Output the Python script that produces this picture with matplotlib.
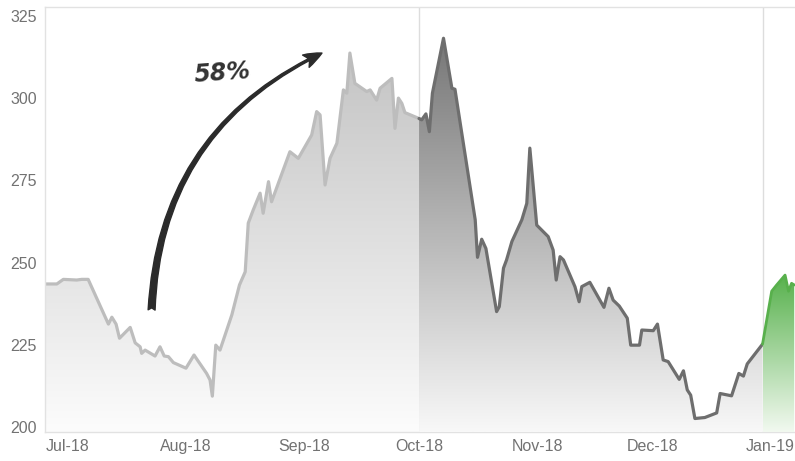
import numpy as np
import matplotlib
matplotlib.use("Agg")
import matplotlib.pyplot as plt
from matplotlib.colors import LinearSegmentedColormap
from matplotlib.patches import FancyArrowPatch

# ---- data: days since 2018-07-01, price ----
days_a = [-5.9, -2.8, -1.1, 2.4, 3.7, 5.4, 10.7, 11.6, 12.7, 13.6, 16.4, 17.7, 19.0, 19.4,
          20.3, 22.9, 24.2, 25.3, 26.4, 27.7, 31.0, 33.1, 36.4, 37.3, 37.9, 38.8, 39.9,
          40.8, 43.0, 45.0, 46.5, 47.3, 48.6, 50.4, 51.2, 52.6, 53.4, 58.2, 60.4, 63.9,
          65.2, 66.1, 67.4, 68.7, 70.5, 72.2, 73.1, 73.9, 75.2, 78.3, 79.2, 80.9, 81.8,
          84.9, 85.7, 86.6, 87.5, 88.3, 92.0]
vals_a = [243.5, 243.5, 244.9, 244.7, 244.9, 244.9, 231.3, 233.4, 231.3, 227.0, 230.3, 225.6,
          224.4, 222.4, 223.4, 221.6, 224.4, 221.6, 221.4, 219.6, 217.9, 221.9, 216.3, 214.3,
          209.4, 224.9, 223.4, 226.5, 234.1, 243.2, 247.2, 262.0, 266.0, 271.1, 265.0, 274.6,
          268.5, 283.7, 281.7, 288.8, 295.9, 294.9, 273.6, 281.7, 286.3, 302.5, 301.5, 313.7,
          304.5, 302.0, 302.5, 299.4, 303.0, 306.0, 290.8, 300.0, 298.4, 295.6, 293.8]

days_b = [92.0, 92.7, 93.8, 94.7, 95.5, 98.4, 100.6, 101.4, 106.7, 107.3, 108.4, 109.5,
          112.3, 113.0, 114.1, 114.9, 116.3, 118.9, 120.2, 121.0, 122.8, 125.8, 127.1,
          127.9, 128.9, 129.8, 132.8, 133.9, 134.6, 136.7, 140.4, 141.7, 142.8, 144.4,
          146.5, 147.4, 149.7, 150.3, 153.3, 154.4, 155.9, 157.2, 160.1, 161.2, 162.2,
          163.1, 164.2, 166.8, 169.9, 170.8, 173.8, 175.7, 176.9, 177.9, 181.9]
vals_b = [293.8, 293.4, 295.2, 289.8, 301.5, 318.2, 303.0, 302.7, 263.0, 251.6, 257.1, 254.3,
          235.1, 236.6, 248.3, 250.8, 256.4, 263.0, 268.0, 284.8, 261.4, 257.9, 253.8,
          244.7, 251.8, 250.8, 242.7, 238.1, 242.7, 244.0, 236.4, 242.2, 238.6, 236.8,
          233.1, 224.9, 224.9, 229.5, 229.3, 231.3, 220.4, 219.9, 214.5, 217.1, 211.3,
          209.7, 202.6, 202.9, 204.3, 210.2, 209.5, 216.3, 215.5, 219.2, 225.2]

days_c = [181.9, 184.3, 185.6, 187.8, 188.7, 189.5, 190.2]
vals_c = [225.2, 241.3, 243.2, 246.2, 241.3, 243.7, 243.2]

tick_days = [0, 31, 62, 92, 123, 153, 184]
tick_labels = ["Jul-18", "Aug-18", "Sep-18", "Oct-18", "Nov-18", "Dec-18", "Jan-19"]
y_ticks = [200, 225, 250, 275, 300, 325]
divider_days = [92.0, 181.9]

XMIN, XMAX = -5.9, 190.4
YMIN, YMAX = 198.5, 327.7

plt.rcParams['font.family'] = ['Liberation Sans', 'DejaVu Sans']

fig = plt.figure(figsize=(7.95, 4.61), dpi=100)
ax = fig.add_axes([45 / 795, (461 - 432) / 461, 750 / 795, 425 / 461])
ax.set_xlim(XMIN, XMAX)
ax.set_ylim(YMIN, YMAX)


def gradient_fill(x, y, c_bottom, c_top, v_bottom, v_top, line_color, lw, z):
    poly = ax.fill_between(x, y, YMIN, facecolor='none', edgecolor='none')
    cmap = LinearSegmentedColormap.from_list('g', [c_bottom, c_top])
    grad = np.linspace(0, 1, 256).reshape(-1, 1)
    im = ax.imshow(grad, cmap=cmap, aspect='auto', origin='lower',
                   extent=[min(x), max(x), v_bottom, v_top], zorder=z,
                   interpolation='bilinear')
    im.set_clip_path(poly.get_paths()[0], transform=ax.transData)
    ax.plot(x, y, color=line_color, lw=lw, zorder=z + 0.5,
            solid_joinstyle='round', solid_capstyle='round')


gradient_fill(days_a, vals_a, '#fcfcfc', '#c2c2c2', 198.5, 318, '#bdbdbd', 2.3, 2)
gradient_fill(days_b, vals_b, '#f8f8f8', '#777777', 198.5, 318, '#6e6e6e', 2.3, 3)
gradient_fill(days_c, vals_c, '#f2f9f0', '#55b04a', 198.5, 247, '#58b04c', 2.0, 4)

for d in divider_days:
    ax.axvline(d, color='#dddddd', lw=1.0, zorder=1)

ax.set_xticks(tick_days)
ax.set_xticklabels(tick_labels)
ax.set_yticks(y_ticks)
ax.tick_params(axis='both', length=0, labelsize=11.5, colors='#727272')
ax.tick_params(axis='x', pad=5)
ax.tick_params(axis='y', pad=6)
for s in ['left', 'top', 'bottom']:
    ax.spines[s].set_color('#e2e2e2')
    ax.spines[s].set_linewidth(1.0)
ax.spines['right'].set_visible(False)

# annotation arrow and text
arrow = FancyArrowPatch((22.0, 235.6), (66.6, 313.7),
                        connectionstyle='arc3,rad=-0.3',
                        arrowstyle='fancy,head_length=13,head_width=10,tail_width=5',
                        mutation_scale=1, color='#2b2b2b', shrinkA=0, shrinkB=0, zorder=6)
ax.add_patch(arrow)
ax.text(40.5, 307.5, '58%', fontsize=17, fontstyle='italic', fontweight='bold',
        family=['DejaVu Sans'], color='#333333', ha='center', va='center', rotation=4,
        zorder=6)

fig.savefig('out.png', dpi=100)
